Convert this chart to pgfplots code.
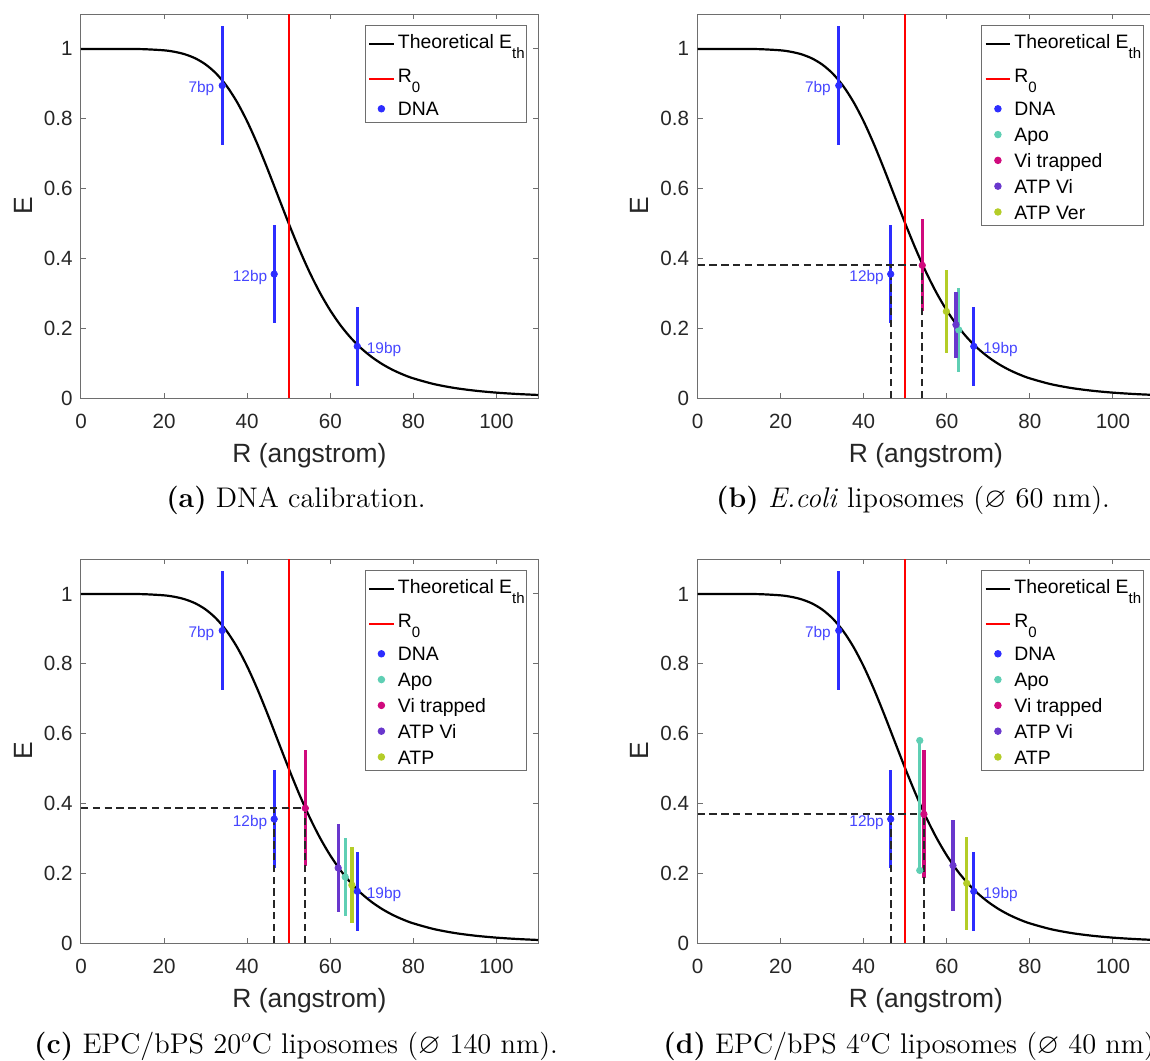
\documentclass[border=0pt]{standalone}
\usepackage{fontspec}
\usepackage{amssymb}
\usepackage{pgfplots}
\usepackage{pgfplotstable}
\pgfplotsset{compat=1.18}
\newfontfamily\arial{Liberation Sans}

\definecolor{dnablue}{RGB}{45,45,255}
\definecolor{lblblue}{RGB}{70,70,255}
\definecolor{apo}{RGB}{95,207,180}
\definecolor{vitrap}{RGB}{208,10,125}
\definecolor{atpvi}{RGB}{105,55,205}
\definecolor{atpver}{RGB}{180,205,40}
\definecolor{axgray}{RGB}{110,110,110}
\definecolor{txt}{RGB}{38,38,38}

% Theoretical FRET efficiency values (R0 = 50 A)
\pgfplotstableread{
R E
0 1
5 1.00000
10 0.99994
15 0.99927
20 0.99592
22.5 0.99176
25 0.98462
27.5 0.97307
30 0.95542
32.5 0.92987
35 0.89474
37.5 0.84890
40 0.79228
42.5 0.72613
45 0.65298
47.5 0.57634
50 0.50000
52.5 0.42733
55 0.36081
57.5 0.30183
60 0.25088
62.5 0.20770
65 0.17162
67.5 0.14178
70 0.11724
72.5 0.09714
75 0.08071
77.5 0.06726
80 0.05625
85 0.03978
90 0.02856
95 0.02081
100 0.01538
105 0.01153
110 0.00874
}\curvetab

\newcommand{\Eth}{Theoretical E\raisebox{-5pt}{\fontsize{7.5}{8}\selectfont th}}
\newcommand{\Rzero}{R\raisebox{-5pt}{\fontsize{7.5}{8}\selectfont 0}}
\newcommand{\sA}{\rule[-6.65pt]{0pt}{17.7pt}}
\newcommand{\sB}{\rule[-6.5pt]{0pt}{17pt}}
\newcommand{\sC}{\rule[-2.85pt]{0pt}{12.9pt}}

\pgfplotsset{
  panel/.style={
    scale only axis, width=228.5pt, height=192pt,
    anchor=south west,
    xmin=0, xmax=110, ymin=0, ymax=1.1,
    xtick={0,20,40,60,80,100}, xticklabels={0,20,40,60,80,100},
    ytick={0,0.2,0.4,0.6,0.8,1}, yticklabels={0,0.2,0.4,0.6,0.8,1},
    tick align=inside, tick pos=both, major tick length=2.5pt,
    axis line style={draw=axgray, line width=0.5pt},
    every tick/.style={draw=axgray, line width=0.5pt},
    ticklabel style={font=\arial\fontsize{10.3}{12}\selectfont, text=txt},
    xticklabel style={yshift=-4.6pt},
    yticklabel style={xshift=-0.7pt},
    xlabel={R (angstrom)}, ylabel={E},
    every axis x label/.style={at={(axis description cs:0.5,0)}, anchor=base, yshift=-32pt,
      font=\arial\fontsize{13.2}{15}\selectfont, text=txt},
    every axis y label/.style={at={(axis description cs:-0.1263,0.5)}, rotate=90, anchor=center,
      font=\arial\fontsize{13.2}{15}\selectfont, text=txt},
    legend cell align=left,
    legend style={at={(0.9764,0.9709)}, anchor=north east, draw=axgray, line width=0.5pt,
      fill=white, inner xsep=1pt, inner ysep=0.4pt, row sep=0pt, column sep=0pt,
      nodes={inner sep=0pt, text depth=, font=\arial\fontsize{9.7}{11}\selectfont, text=black}},
  },
  legimg line/.style={legend image code/.code={\path (0pt,-1pt) (14.3pt,1pt); \draw[##1] (0.5pt,0pt) -- (12.8pt,0pt);}},
  ebar/.style={color=#1, only marks, mark=*, mark size=1.6pt, mark options={solid, draw=#1, fill=#1},
    /pgfplots/error bars/y dir=both, /pgfplots/error bars/y explicit,
    /pgfplots/error bars/error mark=none,
    /pgfplots/error bars/error bar style={line width=1.65pt, solid, color=#1},
    legend image code/.code={\path (0pt,-1pt) (14.3pt,1pt); \draw[mark repeat=2,mark phase=2,##1] plot coordinates {(0pt,0pt) (6.6pt,0pt) (13.2pt,0pt)};}},
  dashref/.style={forget plot, color=txt, line width=0.9pt, dash pattern=on 3.7pt off 2.2pt},
}

\newcommand{\commonplots}{%
  \addplot[black, line width=1.1pt, smooth, legimg line] table[x=R,y=E]{\curvetab};
  \addlegendentry{\Eth\sA}
  \addplot[red, line width=1pt, legimg line] coordinates {(50,0) (50,1.1)};
  \addlegendentry{\Rzero\sB}
  \addplot[ebar=dnablue] coordinates {(34.0,0.895) +- (0,0.170) (46.5,0.355) +- (0,0.140) (66.5,0.148) +- (0,0.113)};
  \addlegendentry{DNA\sC}
}
\newcommand{\bplabels}{%
  \node[font=\arial\fontsize{7.7}{9}\selectfont, text=lblblue, anchor=base east, inner sep=0pt, xshift=-3.8pt, yshift=-3.4pt] at (axis cs:34.0,0.895) {7bp};
  \node[font=\arial\fontsize{7.7}{9}\selectfont, text=lblblue, anchor=base east, inner sep=0pt, xshift=-3.3pt, yshift=-3.5pt] at (axis cs:46.5,0.355) {12bp};
  \node[font=\arial\fontsize{7.7}{9}\selectfont, text=lblblue, anchor=base west, inner sep=0pt, xshift=4.6pt, yshift=-3.6pt] at (axis cs:66.5,0.148) {19bp};
}

\begin{document}
\begin{tikzpicture}
\useasboundingbox (0,0) rectangle (575pt,-530pt);
\clip (0,0) rectangle (575pt,-530pt);

% (a)
\begin{axis}[panel, at={(40.5pt,-199pt)}]
  \commonplots
  \bplabels
\end{axis}

% (b)
\begin{axis}[panel, at={(348.75pt,-199pt)}]
  \commonplots
  \addplot[ebar=apo] coordinates {(62.9,0.195) +- (0,0.121)};
  \addlegendentry{Apo\sC}
  \addplot[ebar=vitrap] coordinates {(54.1,0.380) +- (0,0.132)};
  \addlegendentry{Vi trapped\sC}
  \addplot[ebar=atpvi] coordinates {(62.2,0.210) +- (0,0.095)};
  \addlegendentry{ATP Vi\sC}
  \addplot[ebar=atpver] coordinates {(59.9,0.248) +- (0,0.120)};
  \addlegendentry{ATP Ver\sC}
  \addplot[dashref] coordinates {(0,0.380) (54.1,0.380)};
  \addplot[dashref] coordinates {(46.5,0) (46.5,0.380)};
  \addplot[dashref] coordinates {(54.1,0) (54.1,0.380)};
  \bplabels
\end{axis}

% (c)
\begin{axis}[panel, at={(40.5pt,-471.5pt)}]
  \commonplots
  \addplot[ebar=apo] coordinates {(63.6,0.189) +- (0,0.111)};
  \addlegendentry{Apo\sC}
  \addplot[ebar=vitrap] coordinates {(54.0,0.386) +- (0,0.166)};
  \addlegendentry{Vi trapped\sC}
  \addplot[ebar=atpvi] coordinates {(61.9,0.215) +- (0,0.126)};
  \addlegendentry{ATP Vi\sC}
  \addplot[ebar=atpver] coordinates {(65.2,0.166) +- (0,0.108)};
  \addlegendentry{ATP\sC}
  \addplot[dashref] coordinates {(0,0.387) (54.0,0.387)};
  \addplot[dashref] coordinates {(46.5,0) (46.5,0.387)};
  \addplot[dashref] coordinates {(54.0,0) (54.0,0.387)};
  \bplabels
\end{axis}

% (d)
\begin{axis}[panel, at={(348.75pt,-471.5pt)}]
  \commonplots
  \addplot[ebar=apo, /pgfplots/error bars/y dir=minus] coordinates {(53.5,0.580) -= (0,0.372)};
  \addlegendentry{Apo\sC}
  \addplot[ebar=apo, forget plot, /pgfplots/error bars/y dir=none] coordinates {(53.5,0.208)};
  \addplot[ebar=vitrap] coordinates {(54.5,0.369) +- (0,0.183)};
  \addlegendentry{Vi trapped\sC}
  \addplot[ebar=atpvi] coordinates {(61.5,0.222) +- (0,0.130)};
  \addlegendentry{ATP Vi\sC}
  \addplot[ebar=atpver] coordinates {(64.8,0.171) +- (0,0.133)};
  \addlegendentry{ATP\sC}
  \addplot[dashref] coordinates {(0,0.369) (54.5,0.369)};
  \addplot[dashref] coordinates {(46.5,0) (46.5,0.369)};
  \addplot[dashref] coordinates {(54.5,0) (54.5,0.369)};
  \bplabels
\end{axis}

% captions
\node[anchor=base, font=\fontsize{14.2}{16}\selectfont, inner sep=0pt] at (148pt,-253.5pt) {\textbf{(a)} DNA calibration.};
\node[anchor=base, font=\fontsize{14.2}{16}\selectfont, inner sep=0pt] at (456.5pt,-253.5pt) {\textbf{(b)} \textit{E.coli} liposomes ($\varnothing$ 60 nm).};
\node[anchor=base, font=\fontsize{14.2}{16}\selectfont, inner sep=0pt] at (148pt,-526.5pt) {\textbf{(c)} EPC/bPS 20$^o$C liposomes ($\varnothing$ 140 nm).};
\node[anchor=base, font=\fontsize{14.2}{16}\selectfont, inner sep=0pt] at (456.5pt,-526.5pt) {\textbf{(d)} EPC/bPS 4$^o$C liposomes ($\varnothing$ 40 nm).};
\end{tikzpicture}
\end{document}
